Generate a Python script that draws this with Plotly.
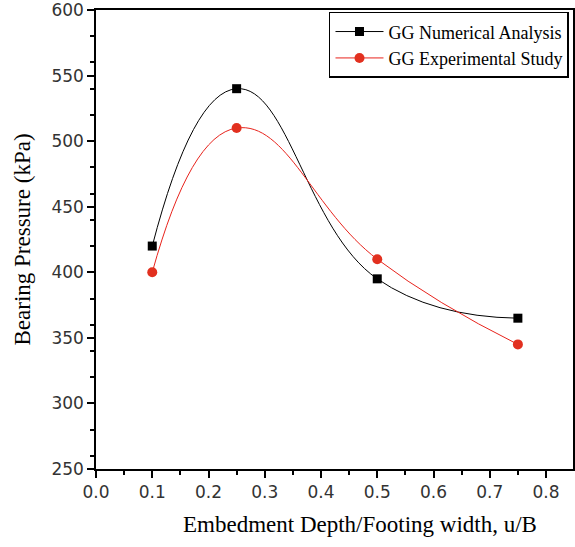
import plotly.graph_objects as go

x_vals = [0.1, 0.25, 0.5, 0.75]
numerical = [420, 540, 395, 365]
experimental = [400, 510, 410, 345]
x_ticks = [0.0, 0.1, 0.2, 0.3, 0.4, 0.5, 0.6, 0.7, 0.8]
y_ticks = [250, 300, 350, 400, 450, 500, 550, 600]
x_title = "Embedment Depth/Footing width, u/B"
y_title = "Bearing Pressure (kPa)"

fig = go.Figure()
fig.add_trace(go.Scatter(
    x=x_vals, y=numerical, name="GG Numerical Analysis",
    mode="lines+markers", line=dict(color="black", width=1, shape="spline", smoothing=1.3),
    marker=dict(symbol="square", size=9, color="black")))
fig.add_trace(go.Scatter(
    x=x_vals, y=experimental, name="GG Experimental Study",
    mode="lines+markers", line=dict(color="#e8231c", width=1, shape="spline", smoothing=1.3),
    marker=dict(symbol="circle", size=10, color="#e2301f")))

axis_common = dict(showgrid=False, zeroline=False, showline=True, linecolor="black",
                   linewidth=1.5, ticks="outside", ticklen=7, tickwidth=1.5, tickcolor="black",
                   mirror=True, ticklabeloverflow="allow",
                   minor=dict(ticks="outside", ticklen=4, tickwidth=1.5, tickcolor="black"),
                   tickfont=dict(family="DejaVu Sans", size=17, color="#333333"))

title_font = dict(family="Liberation Serif, Times New Roman", size=23, color="black")

fig.update_layout(
    width=575, height=547,
    margin=dict(l=96, r=0, t=10, b=78),
    plot_bgcolor="white", paper_bgcolor="white",
    xaxis=dict(range=[0, 0.848], tickvals=x_ticks, ticktext=[f"{v:.1f}" for v in x_ticks],
               **axis_common),
    yaxis=dict(range=[250, 600], tickvals=y_ticks,
               title=dict(text=y_title, font=title_font, standoff=14),
               **axis_common),
    legend=dict(x=0.9916, y=0.996, xanchor="right", yanchor="top",
                bordercolor="black", borderwidth=1.5, bgcolor="white",
                font=dict(family="Liberation Serif, Times New Roman", size=18, color="black"),
                itemwidth=48, tracegroupgap=2),
    showlegend=True,
    annotations=[dict(text=x_title, xref="paper", yref="paper", x=0.553, y=-0.122,
                      xanchor="center", yanchor="middle", showarrow=False, font=title_font)],
)
fig.write_html("out.html", config={"displayModeBar": False},
               post_script="document.body.style.margin='0';")
